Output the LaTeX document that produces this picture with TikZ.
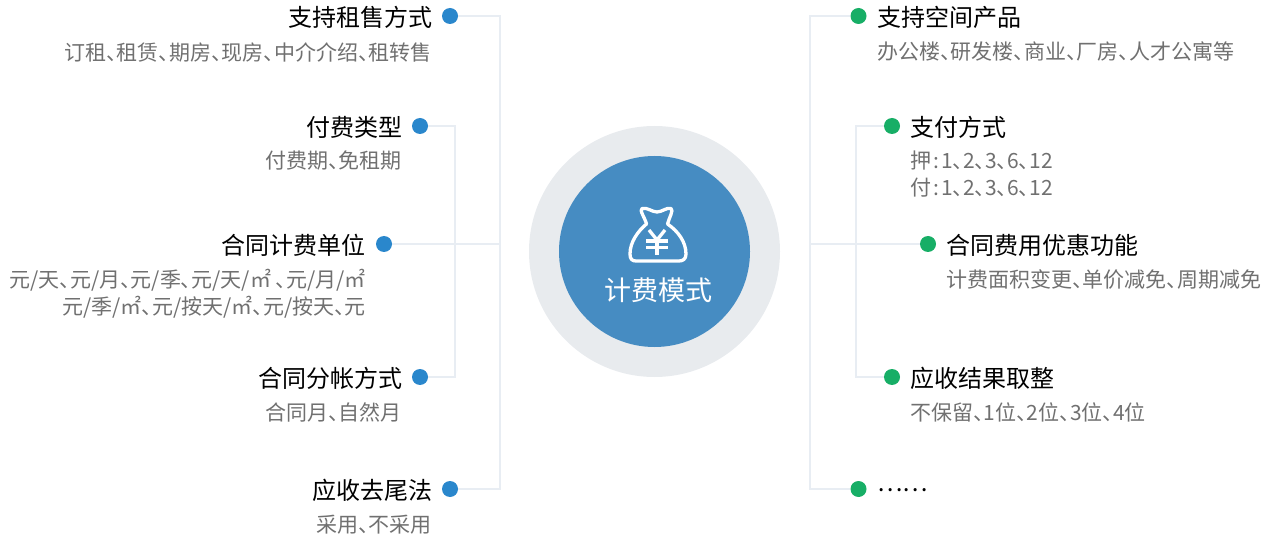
\documentclass[tikz,border=0pt]{standalone}
\usepackage{fontspec}
\setmainfont{Noto Sans CJK SC}[RawFeature={+palt}]
\newfontfamily\plainfont{Noto Sans CJK SC}
\usepackage{tikz}

\begin{document}
\begin{tikzpicture}[x=1pt,y=-1pt]
  % Colors
  \definecolor{ringcol}{RGB}{232,235,238}
  \definecolor{corecol}{RGB}{70,140,194}
  \definecolor{leftcol}{RGB}{42,135,204}
  \definecolor{rightcol}{RGB}{23,174,102}
  \definecolor{linkcol}{RGB}{232,237,243}
  \definecolor{subcol}{RGB}{112,112,112}
  %
  \tikzset{
    ldot/.style={circle, fill=leftcol, minimum size=16pt, inner sep=0pt},
    rdot/.style={circle, fill=rightcol, minimum size=16pt, inner sep=0pt},
    linkline/.style={draw=linkcol, line width=1.5pt},
    ltitle/.style={anchor=east, inner sep=0pt, font=\fontsize{24}{24}\selectfont, text=black},
    rtitle/.style={anchor=west, inner sep=0pt, font=\fontsize{24}{24}\selectfont, text=black},
    lsub/.style={anchor=east, inner sep=0pt, align=right, font=\fontsize{21}{27}\selectfont, text=subcol},
    rsub/.style={anchor=west, inner sep=0pt, align=left, font=\fontsize{21}{27}\selectfont, text=subcol},
    bagline/.style={draw=white, line width=3.3pt, line join=round},
  }
  %
  \useasboundingbox (0,0) rectangle (1270,540);
  %
  %%% CONNECTORS %%%
  \coordinate (ltop) at (500,16);
  \coordinate (lbot) at (500,489);
  \coordinate (lmid) at (500,244);
  \coordinate (ltop2) at (455,126);
  \coordinate (lbot2) at (455,377);
  \coordinate (rtop) at (810,16);
  \coordinate (rbot) at (810,489);
  \coordinate (rmid) at (810,244);
  \coordinate (rtop2) at (856,126);
  \coordinate (rbot2) at (856,377);
  %
  %%% LEFT SIDE %%%
  \foreach \n/\x/\tx/\y/\txt in {
    1/450/433/16/{支持租售方式}, 2/420/403/126/{付费类型}, 3/384/366/244/{合同计费单位},
    4/420/403/377/{合同分帐方式}, 5/450/433/489/{应收去尾法}%
  } {
    \node[ldot] (ldot\n) at (\x,\y) {};
    \node[ltitle] (ltitle\n) at (\tx,{\y+1}) {\txt};
  }
  \node[lsub] (lsub1) at (432,52) {订租、租赁、期房、现房、中介介绍、租转售};
  \node[lsub] (lsub2) at (402,161) {付费期、免租期};
  \node[lsub] (lsub3) at (366,293.5) {元/天、元/月、元/季、元/天/㎡ 、元/月/㎡\\元/季/㎡、元/按天/㎡、元/按天、元};
  \node[lsub] (lsub4) at (402,412) {合同月、自然月};
  \node[lsub] (lsub5) at (432,525) {采用、不采用};
  %
  %%% RIGHT SIDE %%%
  \foreach \n/\x/\tx/\y/\txt in {
    1/858.5/877/16/{支持空间产品}, 2/892/910/126/{支付方式}, 3/928/946/244/{合同费用优惠功能},
    4/892/910/377/{应收结果取整}, 5/858.5/877/489/{\plainfont ……}%
  } {
    \node[rdot] (rdot\n) at (\x,\y) {};
    \node[rtitle] (rtitle\n) at (\tx,{\y+1}) {\txt};
  }
  \node[rsub] (rsub1) at (877,52) {办公楼、研发楼、商业、厂房、人才公寓等};
  \node[rsub] (rsub2) at (910,174.5) {押\kern2pt:\kern2pt1、2、3、6、12\\付\kern2pt:\kern2pt1、2、3、6、12};
  \node[rsub] (rsub3) at (946,280) {计费面积变更、单价减免、周期减免};
  \node[rsub] (rsub4) at (910,412) {不保留、1位、2位、3位、4位};
  %
  \draw[linkline] (ldot1) -- (ltop) -- (lbot) -- (ldot5);
  \draw[linkline] (ldot2) -- (ltop2) -- (lbot2) -- (ldot4);
  \draw[linkline] (ldot3) -- (lmid);
  \draw[linkline] (rdot1) -- (rtop) -- (rbot) -- (rdot5);
  \draw[linkline] (rdot2) -- (rtop2) -- (rbot2) -- (rdot4);
  \draw[linkline] (rdot3) -- (rmid);
  %
  %%% CENTER %%%
  \node[circle, fill=ringcol, minimum size=251pt, inner sep=0pt] (ring) at (654.5,251.5) {};
  \node[circle, fill=corecol, minimum size=191pt, inner sep=0pt] (core) at (654.5,251.5) {};
  \node[inner sep=0pt, text=white, font=\fontsize{27}{27}\selectfont] (corelabel) at (658,290) {计费模式};
  %
  % Money bag
  \draw[bagline] (642,208.5) .. controls (647,207) and (652,212) .. (657,212)
    .. controls (662,212) and (667,207) .. (671,208.5)
    .. controls (674,210) and (669,218) .. (667.5,224)
    .. controls (678,231) and (686,242) .. (686,254)
    .. controls (686,259) and (683,261) .. (679,261)
    -- (636,261) .. controls (632,261) and (630,259) .. (630,254)
    .. controls (630,242) and (638,231) .. (646.5,224)
    .. controls (645,218) and (639,210) .. (642,208.5) -- cycle;
  \draw[bagline] (649,230) -- (657,240) -- (665,230);
  \draw[bagline] (646,241) -- (667.5,241);
  \draw[bagline] (646,247.5) -- (667.5,247.5);
  \draw[bagline, line width=3.6pt] (657,240) -- (657,255.5);
\end{tikzpicture}
\end{document}
